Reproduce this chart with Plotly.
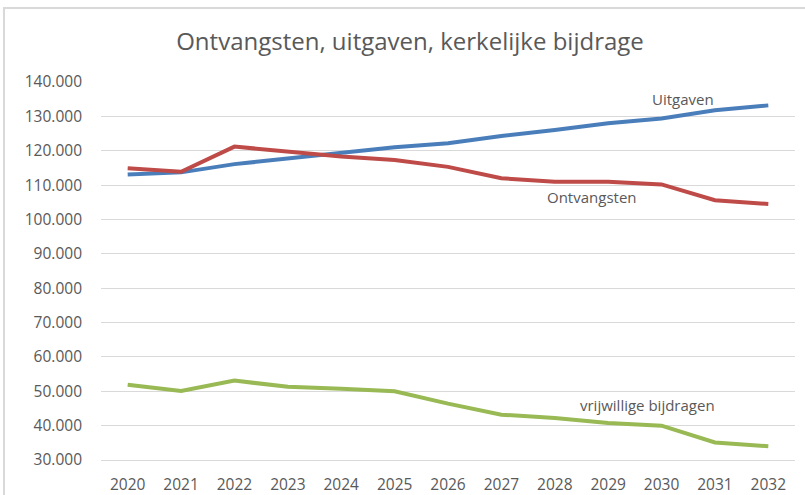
import plotly.graph_objects as go

years = list(range(2020, 2033))
uitgaven = [113100, 113700, 116100, 117700, 119200, 121000, 122200, 124300, 126000, 128000, 129400, 131800, 133200]
ontvangsten = [114900, 113900, 121200, 119700, 118300, 117300, 115300, 112000, 111000, 111000, 110200, 105600, 104500]
vrijwillig = [51900, 50100, 53100, 51300, 50700, 50000, 46400, 43200, 42200, 40800, 40000, 35100, 34000]
y_ticks = [30000, 40000, 50000, 60000, 70000, 80000, 90000, 100000, 110000, 120000, 130000, 140000]

title = "Ontvangsten, uitgaven, kerkelijke bijdrage"
FONT = "Open Sans"
GREY = "#595959"

fig = go.Figure()
series = [
    ("Uitgaven", uitgaven, "#4a7ebb"),
    ("Ontvangsten", ontvangsten, "#be4b48"),
    ("vrijwillige bijdragen", vrijwillig, "#98b954"),
]
for name, vals, col in series:
    fig.add_trace(go.Scatter(x=years, y=vals, mode="lines", name=name,
                             line=dict(color=col, width=4), showlegend=False))

labels = [
    ("Uitgaven", 2030.4, 135050, None, 6),
    ("Ontvangsten", 2028.7, 106530, None, 6),
    ("vrijwillige bijdragen", 2029.74, 46000, "white", 2),
]
for txt, xv, yv, bg, pad in labels:
    fig.add_annotation(x=xv, y=yv, text=txt, showarrow=False,
                       font=dict(family=FONT, size=15, color=GREY),
                       bgcolor=bg, borderpad=pad)

# chart border (Excel chart area frame, partially cropped)
fig.add_shape(type="rect", xref="paper", yref="paper",
              x0=-0.1398, x1=1.03, y0=-0.12, y1=1.1958,
              line=dict(color="#d9d9d9", width=2), layer="below")

fig.update_layout(
    width=805, height=495,
    margin=dict(l=101, r=10, t=82, b=35),
    paper_bgcolor="white", plot_bgcolor="white",
    separators=",.",
    title=dict(text=title, x=410 / 805, xref="container", xanchor="center",
               y=1 - 42 / 495, yref="container", yanchor="middle",
               font=dict(family=FONT, size=24, color=GREY)),
    font=dict(family=FONT, size=15, color=GREY),
    xaxis=dict(range=[2019.5, 2032.5], tickvals=years, ticktext=[str(y) for y in years],
               showgrid=False, zeroline=False, showline=True, linecolor="#d9d9d9", linewidth=1,
               ticks="", ticklabelstandoff=10, automargin=False,
               tickfont=dict(family=FONT, size=15.5, color=GREY)),
    yaxis=dict(range=[30000, 140000.5], tickvals=y_ticks, tickformat=",.0f",
               showgrid=True, gridcolor="#d9d9d9", gridwidth=1, zeroline=False,
               showline=False, ticks="", ticklabelstandoff=18, automargin=False,
               tickfont=dict(family=FONT, size=15.5, color=GREY)),
)

fig.write_html("out.html", config={"displayModeBar": False},
               post_script="document.body.style.margin='0';")
